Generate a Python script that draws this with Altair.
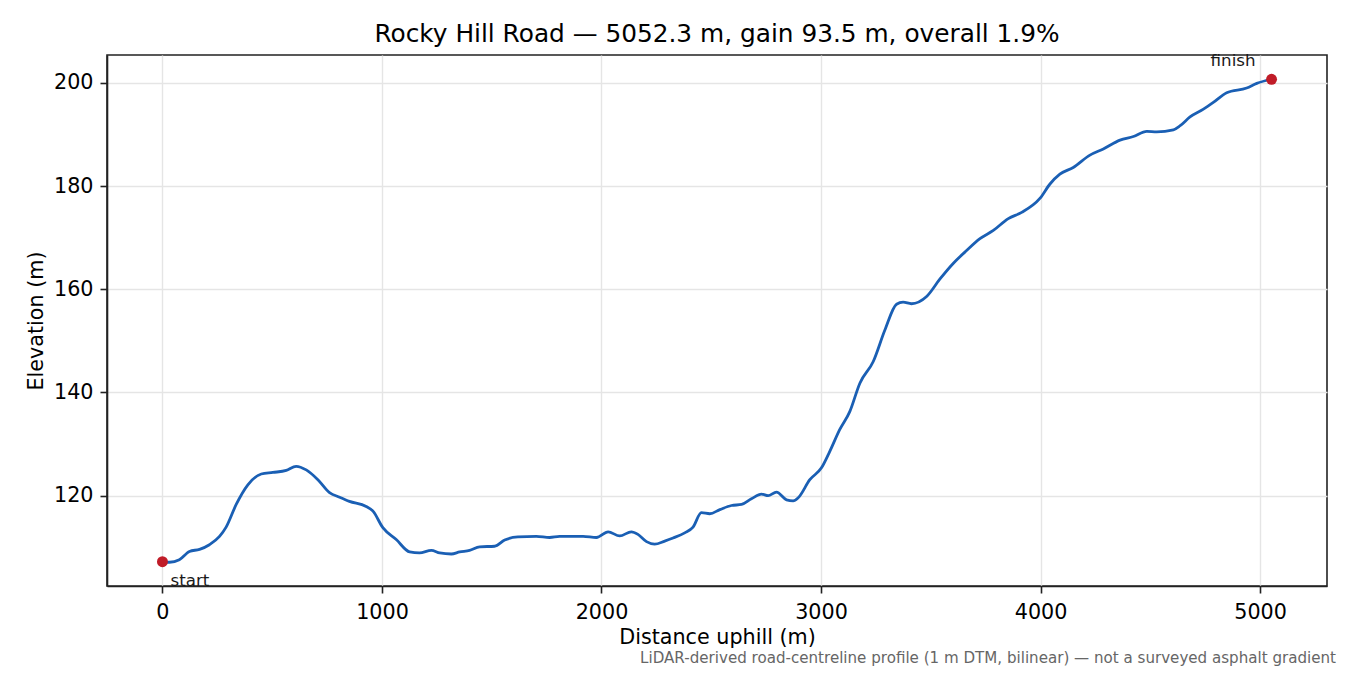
import altair as alt
import pandas as pd

distance_m = [
    0, 32, 77, 123, 169, 214, 260, 290, 336, 389, 450, 503, 564, 609, 655, 708,
    761, 807, 852, 928, 959, 1004, 1065, 1126, 1171, 1225, 1263, 1316, 1354, 1399,
    1445, 1513, 1559, 1619, 1703, 1764, 1809, 1916, 1977, 2030, 2083, 2136, 2166,
    2205, 2242, 2288, 2326, 2379, 2417, 2455, 2493, 2539, 2592, 2638, 2683, 2729,
    2759, 2797, 2843, 2873, 2896, 2949, 3002, 3040, 3085, 3131, 3177, 3238, 3291,
    3344, 3374, 3412, 3481, 3542, 3602, 3663, 3724, 3785, 3853, 3914, 3997, 4043,
    4088, 4149, 4225, 4286, 4362, 4423, 4484, 4529, 4605, 4636, 4681, 4742, 4787,
    4848, 4939, 4985, 5052.3,
]
elevation_m = [
    107.2, 107.1, 107.6, 109.2, 109.6, 110.5, 112.1, 113.9, 118.3, 122.1, 124.2,
    124.5, 124.9, 125.7, 125.0, 123.1, 120.6, 119.7, 118.9, 117.9, 117.0, 113.8,
    111.5, 109.1, 108.9, 109.4, 108.9, 108.7, 109.1, 109.4, 110.1, 110.2, 111.4,
    112.0, 112.1, 111.9, 112.1, 112.1, 111.9, 113.0, 112.2, 113.0, 112.5, 111.1,
    110.6, 111.2, 111.8, 112.8, 113.9, 116.7, 116.5, 117.3, 118.1, 118.3, 119.4,
    120.3, 120.0, 120.7, 119.2, 119.0, 119.6, 123.1, 125.4, 128.6, 132.8, 136.3,
    141.8, 146.0, 152.1, 157.1, 157.5, 157.2, 158.6, 162.0, 165.0, 167.5, 169.8,
    171.4, 173.7, 174.9, 177.6, 180.4, 182.3, 183.6, 186.0, 187.2, 188.9, 189.6,
    190.6, 190.5, 190.9, 191.7, 193.4, 194.9, 196.2, 198.1, 199.0, 199.9, 200.7,
]
end_labels = ["start", "finish"]
x_ticks = [0, 1000, 2000, 3000, 4000, 5000]
y_ticks = [120, 140, 160, 180, 200]
title_text = "Rocky Hill Road \u2014 5052.3 m, gain 93.5 m, overall 1.9%"
footnote = ("LiDAR-derived road-centreline profile (1 m DTM, bilinear) "
            "\u2014 not a surveyed asphalt gradient")

FONT = "DejaVu Sans"
TICK_FS = 20.7
profile = pd.DataFrame({"d": distance_m, "e": elevation_m})
ends = pd.DataFrame({
    "d": [distance_m[0], distance_m[-1]],
    "e": [elevation_m[0], elevation_m[-1]],
    "label": end_labels,
})

xscale = alt.Scale(domain=[-252.6, 5304.9], nice=False, zero=False)
yscale = alt.Scale(domain=[102.5, 205.4], nice=False, zero=False)

common_axis = dict(
    format="d", labelFont=FONT, titleFont=FONT, labelFontSize=TICK_FS,
    titleFontSize=TICK_FS, labelColor="black", titleColor="black",
    titleFontWeight="normal", tickSize=7, tickWidth=1.6, tickColor="#222222",
    domainColor="#222222", domainWidth=1.6, grid=True, gridColor="#e5e5e5",
    gridWidth=1.4, labelFlush=False,
)
x_enc = alt.X("d:Q", scale=xscale, title="Distance uphill (m)",
              axis=alt.Axis(values=x_ticks, labelPadding=9, titlePadding=6,
                            **common_axis))
y_enc = alt.Y("e:Q", scale=yscale, title="Elevation (m)",
              axis=alt.Axis(values=y_ticks, labelPadding=7, titlePadding=7,
                            **common_axis))

line = alt.Chart(profile).mark_line(
    color="#1a5fb4", strokeWidth=2.8, interpolate="monotone"
).encode(x=x_enc, y=y_enc)

pts = alt.Chart(ends).mark_circle(color="#c01c28", size=120, opacity=1).encode(
    x=alt.X("d:Q", scale=xscale), y=alt.Y("e:Q", scale=yscale))

start_txt = alt.Chart(ends).transform_filter(alt.datum.label == "start").mark_text(
    align="left", baseline="alphabetic", dx=8, dy=24, fontSize=16.7, font=FONT,
    color="#1a1a1a").encode(x=alt.X("d:Q", scale=xscale),
                             y=alt.Y("e:Q", scale=yscale), text="label:N")
finish_txt = alt.Chart(ends).transform_filter(alt.datum.label == "finish").mark_text(
    align="right", baseline="alphabetic", dx=-16, dy=-13, fontSize=16.7, font=FONT,
    color="#1a1a1a").encode(x=alt.X("d:Q", scale=xscale),
                             y=alt.Y("e:Q", scale=yscale), text="label:N")

note = alt.Chart(pd.DataFrame({"t": [footnote]})).mark_text(
    align="right", baseline="alphabetic", fontSize=15.1, font=FONT,
    color="#666666").encode(x=alt.value(1229), y=alt.value(608), text="t:N")

chart = alt.layer(line, pts, start_txt, finish_txt, note).properties(
    width=1220, height=531,
    background="white",
    title=alt.TitleParams(title_text, fontSize=24.8, font=FONT, fontWeight="normal",
                          anchor="middle", baseline="alphabetic", offset=-14,
                          frame="group", color="black"),
    autosize=alt.AutoSizeParams(type="none"),
    padding={"left": 99, "top": 47, "right": 15, "bottom": 80},
).configure_view(stroke="#222222", strokeWidth=1.6)

chart.save("out.html", embed_options={"renderer": "svg", "actions": False})
